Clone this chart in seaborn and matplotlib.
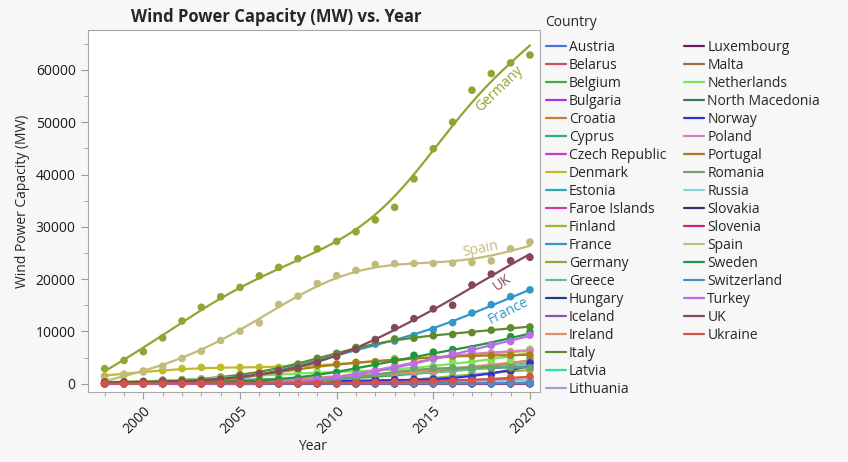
import numpy as np
import pandas as pd
import matplotlib.pyplot as plt
import seaborn as sns

years = list(range(1998, 2021))

countries = ['Austria', 'Belarus', 'Belgium', 'Bulgaria', 'Croatia', 'Cyprus',
             'Czech Republic', 'Denmark', 'Estonia', 'Faroe Islands', 'Finland',
             'France', 'Germany', 'Greece', 'Hungary', 'Iceland', 'Ireland', 'Italy',
             'Latvia', 'Lithuania', 'Luxembourg', 'Malta', 'Netherlands',
             'North Macedonia', 'Norway', 'Poland', 'Portugal', 'Romania', 'Russia',
             'Slovakia', 'Slovenia', 'Spain', 'Sweden', 'Switzerland', 'Turkey',
             'UK', 'Ukraine']

austria = [30, 34, 77, 94, 140, 415, 606, 819, 965, 982, 995, 995, 1011, 1084, 1378, 1684, 2095, 2489, 2730, 2828, 3045, 3159, 3226]
belarus = [0, 0, 0, 0, 0, 0, 0, 0, 0, 0, 0, 1, 2, 3, 3, 3, 29, 29, 70, 77, 100, 100, 100]
belgium = [6, 6, 13, 32, 35, 68, 96, 167, 194, 287, 384, 563, 911, 1078, 1375, 1651, 1959, 2229, 2386, 2843, 3157, 3879, 4716]
bulgaria = [0, 0, 0, 0, 0, 0, 10, 10, 36, 57, 120, 177, 375, 516, 674, 681, 699, 699, 699, 698, 691, 691, 703]
croatia = [0, 0, 0, 0, 0, 0, 6, 6, 17, 17, 17, 28, 89, 131, 180, 254, 347, 418, 483, 576, 583, 646, 801]
cyprus = [0, 0, 0, 0, 0, 0, 0, 0, 0, 0, 0, 0, 82, 134, 147, 158, 158, 158, 158, 158, 158, 158, 158]
czech = [0, 0, 0, 0, 3, 9, 17, 28, 54, 116, 150, 192, 215, 217, 260, 269, 282, 281, 282, 308, 316, 337, 339]
denmark = [1443, 1771, 2417, 2489, 2889, 3116, 3118, 3128, 3136, 3125, 3180, 3482, 3802, 3871, 4162, 4807, 4845, 5064, 5227, 5476, 5758, 6128, 6259]
estonia = [0, 0, 0, 0, 2, 3, 6, 32, 32, 58, 78, 142, 149, 184, 269, 280, 302, 300, 310, 310, 310, 320, 329]
faroe = [0, 0, 0, 0, 0, 0, 0, 4, 4, 4, 4, 4, 4, 4, 4, 4, 4, 18, 18, 18, 18, 18, 40]
finland = [17, 38, 39, 39, 43, 52, 82, 82, 86, 110, 143, 146, 197, 199, 288, 448, 627, 1005, 1539, 2071, 2041, 2284, 2586]
france = [19, 25, 66, 93, 148, 257, 390, 757, 1567, 2454, 3404, 4574, 5660, 6800, 7564, 8157, 9201, 10358, 11670, 13512, 15108, 16646, 17946]
germany = [2875, 4442, 6113, 8754, 11994, 14609, 16629, 18415, 20622, 22247, 23897, 25777, 27214, 29060, 31332, 33730, 39165, 44941, 50019, 56132, 59311, 61357, 62850]
greece = [39, 112, 189, 297, 297, 383, 473, 573, 746, 871, 985, 1087, 1208, 1629, 1749, 1866, 1980, 2091, 2370, 2651, 2877, 3576, 4119]
hungary = [0, 0, 0, 1, 1, 3, 3, 17, 61, 65, 127, 201, 295, 329, 329, 329, 329, 329, 329, 329, 329, 329, 329]
iceland = [0, 0, 0, 0, 0, 0, 0, 0, 0, 0, 0, 0, 0, 0, 0, 2, 2, 3, 3, 3, 3, 3, 3]
ireland = [73, 74, 118, 124, 137, 190, 339, 496, 746, 795, 1027, 1260, 1428, 1631, 1738, 2037, 2272, 2486, 2830, 3318, 3676, 4127, 4351]
italy = [180, 277, 427, 682, 788, 905, 1266, 1718, 1908, 2726, 3736, 4849, 5797, 6936, 8144, 8558, 8703, 9162, 9410, 9766, 10230, 10679, 10852]
latvia = [1, 1, 2, 2, 24, 27, 27, 27, 27, 27, 27, 28, 31, 31, 60, 62, 62, 69, 70, 66, 66, 66, 66]
lithuania = [0, 0, 0, 0, 0, 0, 6, 6, 48, 50, 54, 91, 154, 202, 263, 279, 288, 436, 509, 518, 533, 548, 540]
luxembourg = [9, 10, 10, 15, 17, 22, 35, 35, 35, 35, 35, 35, 42, 44, 58, 58, 58, 64, 120, 120, 123, 136, 152]
malta = [0, 0, 0, 0, 0, 0, 0, 0, 0, 0, 0, 0, 0, 0, 0, 0, 0, 0, 0, 0, 0, 0, 0]
netherlands = [363, 433, 446, 486, 693, 910, 1079, 1224, 1558, 1747, 2225, 2223, 2237, 2316, 2391, 2693, 2865, 3391, 4257, 4202, 4393, 4600, 6600]
north_macedonia = [0, 0, 0, 0, 0, 0, 0, 0, 0, 0, 0, 0, 0, 0, 0, 0, 37, 37, 37, 37, 37, 37, 37]
norway = [9, 13, 13, 17, 97, 101, 160, 268, 314, 333, 428, 431, 441, 537, 704, 768, 856, 873, 883, 1207, 1695, 2444, 3977]
poland = [5, 5, 5, 22, 27, 58, 63, 83, 153, 276, 544, 725, 1180, 1616, 2497, 3390, 3834, 5186, 5807, 5848, 5864, 5917, 6298]
portugal = [60, 61, 100, 125, 195, 296, 522, 1022, 1716, 2150, 2862, 3535, 3702, 4083, 4194, 4364, 4953, 5033, 5313, 5313, 5380, 5437, 5456]
romania = [0, 0, 0, 0, 1, 1, 1, 2, 3, 8, 11, 14, 462, 982, 1905, 2599, 2954, 2976, 3028, 3029, 3032, 3029, 3029]
russia = [0, 0, 0, 0, 0, 0, 0, 0, 0, 0, 0, 0, 9, 15, 15, 15, 15, 15, 15, 150, 184, 191, 945]
slovakia = [0, 0, 0, 0, 0, 3, 5, 5, 5, 5, 5, 3, 3, 3, 3, 3, 3, 3, 3, 3, 3, 3, 3]
slovenia = [0, 0, 0, 0, 0, 0, 0, 0, 0, 0, 0, 0, 0, 0, 0, 2, 3, 3, 3, 3, 3, 3, 3]
spain = [834, 1812, 2235, 3337, 4825, 6203, 8264, 10028, 11630, 15145, 16740, 19149, 20676, 21674, 22796, 22959, 22986, 23003, 23075, 23170, 23494, 25808, 27089]
sweden = [176, 220, 231, 293, 345, 399, 442, 509, 571, 831, 1067, 1560, 2163, 2899, 3745, 4470, 5425, 6029, 6519, 6691, 7407, 8985, 9811]
switzerland = [3, 3, 3, 5, 5, 5, 9, 12, 12, 12, 14, 18, 42, 46, 49, 60, 60, 60, 75, 75, 75, 75, 87]
turkey = [9, 9, 19, 19, 19, 20, 20, 20, 51, 146, 458, 801, 1329, 1799, 2261, 2958, 3763, 4718, 5751, 6516, 7369, 8056, 9280]
uk = [333, 362, 406, 474, 552, 667, 904, 1332, 1962, 2406, 2974, 4051, 5204, 6540, 8445, 10711, 12440, 14306, 15000, 18872, 20970, 23515, 24167]
ukraine = [5, 5, 5, 40, 44, 57, 69, 77, 86, 89, 90, 90, 87, 151, 276, 371, 498, 514, 526, 593, 865, 1170, 1402]

series = [austria, belarus, belgium, bulgaria, croatia, cyprus, czech, denmark,
          estonia, faroe, finland, france, germany, greece, hungary, iceland,
          ireland, italy, latvia, lithuania, luxembourg, malta, netherlands,
          north_macedonia, norway, poland, portugal, romania, russia, slovakia,
          slovenia, spain, sweden, switzerland, turkey, uk, ukraine]

colors = ['#4a73d9', '#d14a5e', '#3fae47', '#a634e0', '#cf7a2d', '#2bb08a',
          '#c93ad1', '#c2b82c', '#2aaab0', '#d13aa0', '#9bb52e', '#2f9ac8',
          '#8fa632', '#66bf8c', '#1e3e85', '#8b55b0', '#e08a6a', '#5f8a2e',
          '#2ee39e', '#9ba6cf', '#6b1c66', '#9c6b3f', '#7de35a', '#3a7566',
          '#3030d9', '#d67fc2', '#a87d1c', '#6ba36b', '#8ad3e0', '#3d2d6b',
          '#cc2470', '#c2bc7c', '#22963a', '#4a90c9', '#b86ee8', '#874856',
          '#d45448']
palette = dict(zip(countries, colors))

# curve labels: country, x, y, rotation
labels = [('Germany', 2018.4, 56300, 44),
          ('Spain', 2017.45, 25700, 11),
          ('UK', 2018.55, 19300, 35),
          ('France', 2018.9, 13900, 27)]


def smooth(vals, lam_c=8.0, step=0.1):
    # discrete cubic smoothing spline on a fine grid
    grid = np.round(np.arange(years[0], years[-1] + step / 2, step), 3)
    n = len(grid)
    idx = np.rint((np.array(years) - years[0]) / step).astype(int)
    w = np.zeros(n)
    w[idx] = 1.0
    b = np.zeros(n)
    b[idx] = vals
    D = np.diff(np.eye(n), 2, axis=0)
    A = np.diag(w) + (lam_c / step ** 3) * D.T @ D
    return grid, np.linalg.solve(A, b)


points = pd.DataFrame([(c, y, v) for c, vals in zip(countries, series)
                       for y, v in zip(years, vals)],
                      columns=['Country', 'Year', 'Capacity'])
curves = []
for c, vals in zip(countries, series):
    gx, gy = smooth(vals)
    curves.append(pd.DataFrame({'Country': c, 'Year': gx, 'Capacity': gy}))
curves = pd.concat(curves, ignore_index=True)

sns.set_style('ticks')
plt.rcParams['font.family'] = ['Open Sans', 'DejaVu Sans']

fig = plt.figure(figsize=(8.48, 4.62), dpi=100, facecolor='#f7f7f7')
ax = fig.add_axes([87.5 / 848, 1 - 392 / 462, 452.5 / 848, 362 / 462])
ax.set_facecolor('white')

sns.lineplot(curves, x='Year', y='Capacity', hue='Country', palette=palette,
             hue_order=countries, estimator=None, sort=False, linewidth=1.6,
             ax=ax)
sns.scatterplot(points, x='Year', y='Capacity', hue='Country', palette=palette,
                hue_order=countries, s=30, linewidth=0, alpha=1, legend=False,
                ax=ax, zorder=3)

for name, lx, ly, rot in labels:
    ax.text(lx, ly, name, color=palette[name], fontsize=10, rotation=rot,
            rotation_mode='anchor', ha='center', va='center')

ax.set_xlim(1997.11, 2020.52)
ax.set_ylim(-1590, 67640)
ax.set_xticks(range(2000, 2021, 5))
ax.set_xticks(years, minor=True)
ax.set_yticks(range(0, 60001, 10000))
ax.set_yticks(range(5000, 65001, 10000), minor=True)
ax.tick_params(axis='both', which='major', length=5, color='#9a9a9a',
               labelsize=10, labelcolor='#1a1a1a')
ax.tick_params(axis='both', which='minor', length=3, color='#9a9a9a')
for lab in ax.get_xticklabels():
    lab.set_rotation(45)
    lab.set_ha('right')
    lab.set_rotation_mode('anchor')
for sp in ax.spines.values():
    sp.set_visible(True)
    sp.set_color('#a8a8a8')
ax.set_xlabel('')
ax.set_ylabel('')

fig.text(276 / 848, 1 - 17.5 / 462, 'Wind Power Capacity (MW) vs. Year',
         ha='center', va='center', fontsize=12, fontweight='bold')
fig.text(23 / 848, 1 - 201 / 462, 'Wind Power Capacity (MW)', rotation=90,
         ha='center', va='center', fontsize=10)
fig.text(313 / 848, 1 - 447 / 462, 'Year', ha='center', va='center',
         fontsize=10)
fig.text(545 / 848, 1 - 23 / 462, 'Country', ha='left', va='center',
         fontsize=10)

# 20 entries in the first column, 17 in the second
handles, names = ax.get_legend_handles_labels()
ax.get_legend().remove()
blank = [plt.Line2D([], [], linestyle='none') for _ in range(3)]
ax.legend(handles + blank, names + [''] * 3, loc='upper left',
          bbox_to_anchor=(546 / 848, 1 - 40 / 462),
          bbox_transform=fig.transFigure, ncol=2, frameon=False, fontsize=10,
          handlelength=1.45, handletextpad=0.2, columnspacing=1.3,
          labelspacing=0.215, borderaxespad=0, borderpad=0)

fig.savefig('out.png', dpi=100, facecolor=fig.get_facecolor())
